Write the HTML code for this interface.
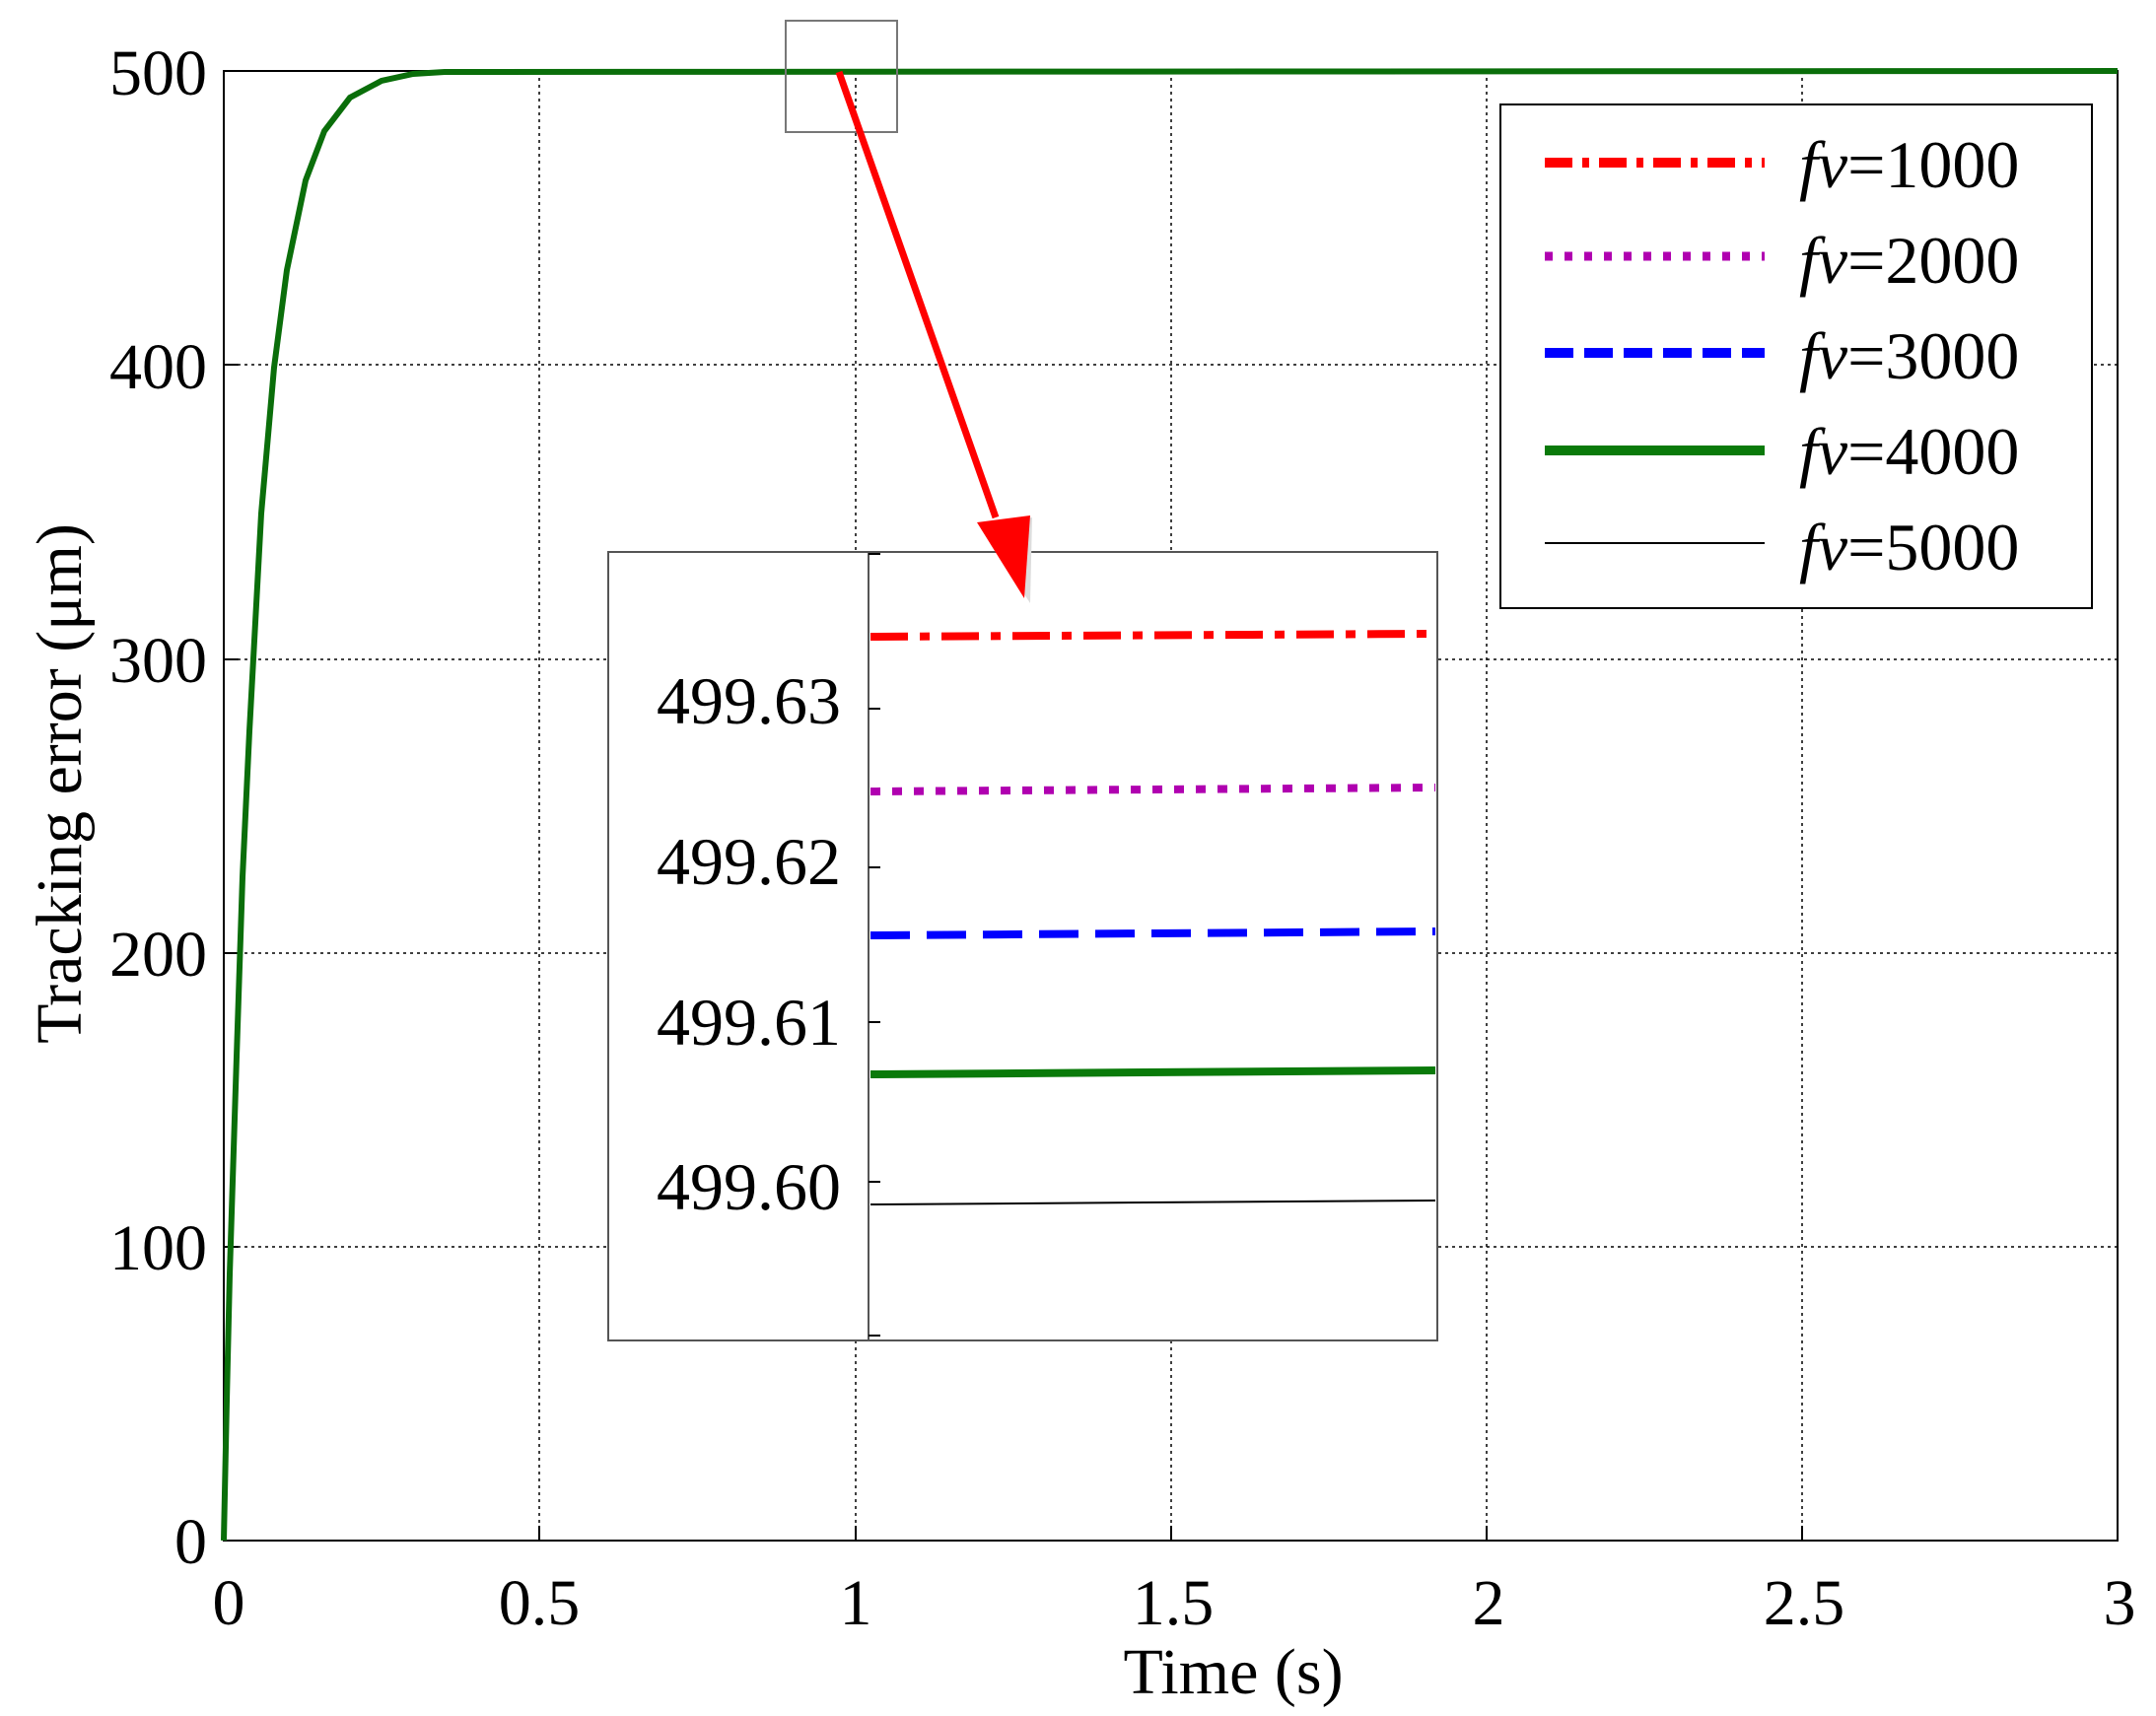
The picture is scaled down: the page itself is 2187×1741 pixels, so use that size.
<!DOCTYPE html>
<html><head><meta charset="utf-8"><style>
html,body{margin:0;padding:0;background:#fff;}
svg{display:block;}
text{font-family:"Liberation Serif",serif;fill:#000;}
</style></head><body>
<svg width="2187" height="1741" viewBox="0 0 2187 1741" xmlns="http://www.w3.org/2000/svg">
<rect width="2187" height="1741" fill="#fff"/>
<!-- grid -->
<g stroke="#000" stroke-width="1.5" stroke-dasharray="3,4">
<line x1="547" y1="72" x2="547" y2="1563"/>
<line x1="868" y1="72" x2="868" y2="1563"/>
<line x1="1188" y1="72" x2="1188" y2="1563"/>
<line x1="1508" y1="72" x2="1508" y2="1563"/>
<line x1="1828" y1="72" x2="1828" y2="1563"/>
<line x1="227" y1="1265" x2="2148" y2="1265"/>
<line x1="227" y1="967" x2="2148" y2="967"/>
<line x1="227" y1="669" x2="2148" y2="669"/>
<line x1="227" y1="370" x2="2148" y2="370"/>
<line x1="227" y1="72" x2="2148" y2="72"/>
</g>
<rect x="227" y="72" width="1921" height="1491" fill="none" stroke="#000" stroke-width="2"/>
<!-- ticks -->
<g stroke="#000" stroke-width="2">
<line x1="547" y1="1563" x2="547" y2="1548"/><line x1="868" y1="1563" x2="868" y2="1548"/>
<line x1="1188" y1="1563" x2="1188" y2="1548"/><line x1="1508" y1="1563" x2="1508" y2="1548"/>
<line x1="1828" y1="1563" x2="1828" y2="1548"/>
<line x1="227" y1="1265" x2="242" y2="1265"/><line x1="227" y1="967" x2="242" y2="967"/>
<line x1="227" y1="669" x2="242" y2="669"/><line x1="227" y1="370" x2="242" y2="370"/>
</g>
<!-- green curve -->
<polyline fill="none" stroke="#0a6e0a" stroke-width="6" points="227,1563 230,1421 233,1293 240,1072 246,890 253,742 265,521 278,373 291,274 310,183 329,133 355,99 387,82 419,75 451,73 2148,72"/>
<!-- small box -->
<rect x="797" y="21" width="113" height="113" fill="none" stroke="#777" stroke-width="2"/>
<!-- tick labels -->
<g font-size="66" text-anchor="middle">
<text x="232" y="1648">0</text><text x="547" y="1648">0.5</text><text x="868" y="1648">1</text>
<text x="1190" y="1648">1.5</text><text x="1510" y="1648">2</text><text x="1830" y="1648">2.5</text>
<text x="2150" y="1648">3</text>
</g>
<g font-size="66" text-anchor="end">
<text x="210" y="1586">0</text><text x="210" y="1288">100</text><text x="210" y="990">200</text>
<text x="210" y="692">300</text><text x="210" y="394">400</text><text x="210" y="96">500</text>
</g>
<text x="1251" y="1718" font-size="66" text-anchor="middle">Time (s)</text>
<text transform="translate(82,795) rotate(-90)" font-size="66" text-anchor="middle">Tracking error (μm)</text>
<!-- inset -->
<rect x="617" y="560" width="841" height="800" fill="#fff" stroke="#555" stroke-width="2"/>
<line x1="881" y1="560" x2="881" y2="1360" stroke="#555" stroke-width="2"/>
<g stroke="#000" stroke-width="2">
<line x1="881" y1="562" x2="893" y2="562"/><line x1="881" y1="719" x2="893" y2="719"/>
<line x1="881" y1="880" x2="893" y2="880"/><line x1="881" y1="1037" x2="893" y2="1037"/>
<line x1="881" y1="1199" x2="893" y2="1199"/><line x1="881" y1="1355" x2="893" y2="1355"/>
</g>
<g font-size="68" text-anchor="end">
<text x="853" y="734">499.63</text><text x="853" y="897">499.62</text>
<text x="853" y="1060">499.61</text><text x="853" y="1227">499.60</text>
</g>
<line x1="883" y1="646" x2="1456" y2="643" stroke="#ff0000" stroke-width="8" stroke-dasharray="38,12,10,12"/>
<line x1="883" y1="803" x2="1456" y2="799" stroke="#b000b0" stroke-width="8" stroke-dasharray="10,12"/>
<line x1="883" y1="949" x2="1456" y2="945" stroke="#0000ff" stroke-width="8" stroke-dasharray="40,17"/>
<line x1="883" y1="1090" x2="1456" y2="1086" stroke="#0a7a0a" stroke-width="8"/>
<line x1="883" y1="1222" x2="1456" y2="1218" stroke="#000" stroke-width="2"/>
<!-- arrow (drawn over inset) -->
<line x1="851" y1="73" x2="1010" y2="525" stroke="#ff0000" stroke-width="7"/>
<polygon points="1045,612 993,532 1047,525" fill="#ddd"/>
<polygon points="1039,607 991,530 1045,523" fill="#ff0000"/>
<!-- legend -->
<rect x="1522" y="106" width="600" height="511" fill="#fff" stroke="#000" stroke-width="2"/>
<line x1="1567" y1="165" x2="1790" y2="165" stroke="#ff0000" stroke-width="10" stroke-dasharray="28,10,7,10"/>
<line x1="1567" y1="260" x2="1790" y2="260" stroke="#b000b0" stroke-width="9" stroke-dasharray="8,12"/>
<line x1="1567" y1="358" x2="1790" y2="358" stroke="#0000ff" stroke-width="10" stroke-dasharray="29,11"/>
<line x1="1567" y1="457" x2="1790" y2="457" stroke="#0a7a0a" stroke-width="10"/>
<line x1="1567" y1="551" x2="1790" y2="551" stroke="#000" stroke-width="2"/>
<g font-size="68">
<text x="1825" y="190"><tspan font-style="italic">fv</tspan>=1000</text>
<text x="1825" y="287"><tspan font-style="italic">fv</tspan>=2000</text>
<text x="1825" y="384"><tspan font-style="italic">fv</tspan>=3000</text>
<text x="1825" y="481"><tspan font-style="italic">fv</tspan>=4000</text>
<text x="1825" y="578"><tspan font-style="italic">fv</tspan>=5000</text>
</g>
</svg>
</body></html>
